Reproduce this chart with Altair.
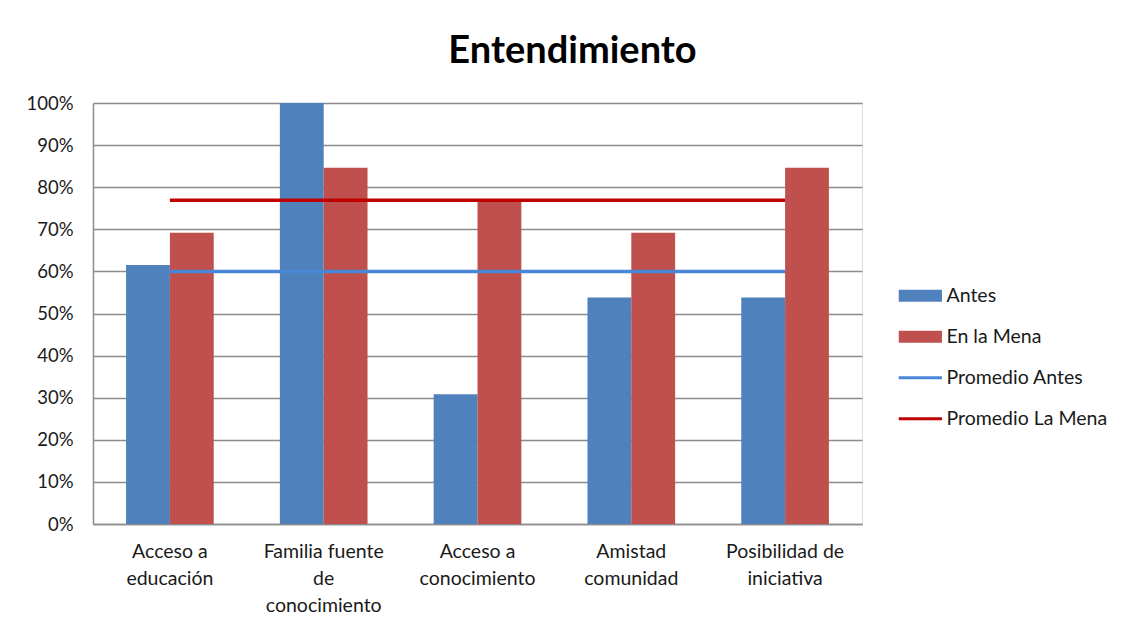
import altair as alt
import pandas as pd

categorias = [
    "Acceso a educación",
    "Familia fuente de conocimiento",
    "Acceso a conocimiento",
    "Amistad comunidad",
    "Posibilidad de iniciativa",
]
lineas_etiqueta = [
    ["Acceso a", "educación"],
    ["Familia fuente", "de", "conocimiento"],
    ["Acceso a", "conocimiento"],
    ["Amistad", "comunidad"],
    ["Posibilidad de", "iniciativa"],
]
antes = [0.615, 1.00, 0.308, 0.538, 0.538]
en_la_mena = [0.692, 0.846, 0.769, 0.692, 0.846]

series = ["Antes", "En la Mena"]
leyenda_dom = ["Antes", "En la Mena", "Promedio Antes", "Promedio La Mena"]
leyenda_col = ["#4F81BD", "#C0504D", "#4A86D8", "#C00000"]

rows = []
for c, a, m in zip(categorias, antes, en_la_mena):
    rows.append({"cat": c, "serie": "Antes", "valor": a})
    rows.append({"cat": c, "serie": "En la Mena", "valor": m})
df = pd.DataFrame(rows)

mapa = "{" + ", ".join(
    "'" + c + "': [" + ", ".join("'" + l + "'" for l in ls) + "]"
    for c, ls in zip(categorias, lineas_etiqueta)
) + "}"
label_expr = mapa + "[datum.label]"

FONT = "Lato"
es_linea = "indexof(['Promedio Antes','Promedio La Mena'], datum.value) >= 0"

x_enc = alt.X(
    "cat:N",
    sort=categorias,
    title=None,
    scale=alt.Scale(paddingInner=0.43, paddingOuter=0.215),
    axis=alt.Axis(
        labelExpr=label_expr,
        labelAngle=0,
        labelFont=FONT,
        labelFontSize=19.5,
        labelColor="#1a1a1a",
        labelLineHeight=27,
        labelPadding=18,
        ticks=False,
        domainColor="#8c8c8c",
        domainWidth=1.5,
        grid=False,
        labelBaseline="top",
    ),
)

color_enc = alt.Color(
    "leyenda:N",
    scale=alt.Scale(domain=leyenda_dom, range=leyenda_col),
    legend=alt.Legend(
        title=None,
        orient="none",
        legendX=802,
        legendY=183,
        padding=0,
        labelFont=FONT,
        labelFontSize=19.5,
        labelColor="#1a1a1a",
        labelOffset=32,
        labelLimit=300,
        rowPadding=20,
        symbolSize=144,
        symbolOpacity=1,
        symbolType={"expr": es_linea + " ? 'M-1,0H6.2' : 'M-1,-1H6.2V1H-1Z'"},
        symbolFillColor={"expr": es_linea + " ? 'transparent' : scale('color', datum.value)"},
        symbolStrokeColor={"expr": "scale('color', datum.value)"},
        symbolStrokeWidth={"expr": es_linea + " ? 3 : 0"},
    ),
)

base = alt.Chart(df)

bars = base.transform_calculate(leyenda="datum.serie").mark_bar(opacity=1).encode(
    x=x_enc,
    xOffset=alt.XOffset("serie:N", sort=series, scale=alt.Scale(paddingInner=0, paddingOuter=0)),
    y=alt.Y(
        "valor:Q",
        title=None,
        scale=alt.Scale(domain=[0, 1], nice=False),
        axis=alt.Axis(
            format=".0%",
            values=[i / 10 for i in range(11)],
            labelFont=FONT,
            labelFontSize=18.5,
            labelColor="#1a1a1a",
            labelPadding=20,
            ticks=False,
            domainColor="#8c8c8c",
            domainWidth=1.5,
            gridColor="#8c8c8c",
            gridWidth=1.5,
        ),
    ),
    color=color_enc,
)

lineas = base.transform_joinaggregate(
    promedio="mean(valor)", groupby=["serie"]
).transform_calculate(
    leyenda="datum.serie == 'Antes' ? 'Promedio Antes' : 'Promedio La Mena'"
).mark_line(strokeWidth=3.5).encode(
    x=alt.X("cat:N", sort=categorias),
    y=alt.Y("promedio:Q"),
    color=alt.Color("leyenda:N"),
    detail="leyenda:N",
)

chart = alt.layer(bars, lineas).properties(
    width=769,
    height=421,
    title=alt.TitleParams(
        "Entendimiento",
        font=FONT,
        fontSize=38,
        fontWeight="bold",
        color="#000000",
        anchor="middle",
        dx=95,
        offset=23,
    ),
    padding={"left": 93, "top": 103, "right": 269, "bottom": 106},
    autosize=alt.AutoSizeParams(type="none"),
).configure_view(stroke=None).configure(background="white")

chart.save("out.html", embed_options={"renderer": "svg", "actions": False})
